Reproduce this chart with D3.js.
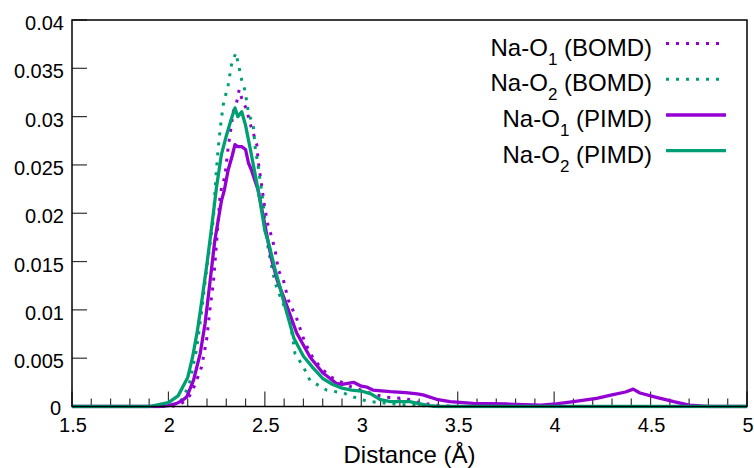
<!DOCTYPE html>
<html>
<head>
<meta charset="utf-8">
<script src="https://cdn.jsdelivr.net/npm/d3@7"></script>
<style>
  html, body { margin: 0; padding: 0; background: #fff; }
  svg { display: block; font-family: "Liberation Sans", Arial, Helvetica, sans-serif; }
</style>
</head>
<body>
<svg id="chart" width="754" height="468"></svg>
<script>
// ---- Data ----
const seriesNames = ["Na-O1 (BOMD)", "Na-O2 (BOMD)", "Na-O1 (PIMD)", "Na-O2 (PIMD)"];
const seriesColors = ["#9400d3", "#009e73", "#9400d3", "#009e73"];

const o1BomdX = [1.5, 2.0, 2.05, 2.095, 2.12, 2.146, 2.172, 2.198, 2.215, 2.233, 2.25, 2.267, 2.276, 2.293, 2.305, 2.311, 2.328, 2.336, 2.354, 2.367, 2.38, 2.406, 2.423, 2.44, 2.458, 2.466, 2.483, 2.5, 2.518, 2.535, 2.553, 2.57, 2.596, 2.622, 2.665, 2.699, 2.734, 2.786, 2.838, 2.941, 3.028, 3.114, 3.235, 3.3, 3.4, 3.5, 5.0];
const o1BomdY = [0, 0, 0.0001, 0.0007, 0.0014, 0.0027, 0.0041, 0.0069, 0.0100, 0.0128, 0.0170, 0.0217, 0.0227, 0.0238, 0.0260, 0.0270, 0.0293, 0.0305, 0.0315, 0.0328, 0.0319, 0.0307, 0.0293, 0.0283, 0.0271, 0.0253, 0.0229, 0.0205, 0.0186, 0.0176, 0.0162, 0.0141, 0.0131, 0.0110, 0.0091, 0.0071, 0.0055, 0.0041, 0.0031, 0.0021, 0.0015, 0.0010, 0.0008, 0.0004, 0.0001, 0, 0];

const o2BomdX = [1.5, 2.0, 2.05, 2.08, 2.11, 2.145, 2.17, 2.2, 2.233, 2.241, 2.249, 2.258, 2.27, 2.284, 2.31, 2.328, 2.35, 2.367, 2.38, 2.397, 2.414, 2.44, 2.449, 2.466, 2.489, 2.5, 2.518, 2.553, 2.587, 2.63, 2.656, 2.7, 2.734, 2.82, 2.907, 2.958, 3.0, 3.05, 3.1, 3.2, 3.3, 3.4, 5.0];
const o2BomdY = [0, 0, 0.0003, 0.0010, 0.0025, 0.0058, 0.0095, 0.0145, 0.0193, 0.0221, 0.0245, 0.0267, 0.0290, 0.0312, 0.0333, 0.0355, 0.0366, 0.0350, 0.0338, 0.0327, 0.0305, 0.0290, 0.0269, 0.0248, 0.0214, 0.0193, 0.0162, 0.0128, 0.0110, 0.0090, 0.0055, 0.0041, 0.0027, 0.0017, 0.0014, 0.0010, 0.0007, 0.0005, 0.0004, 0.0002, 0.0001, 0, 0];

const o1PimdX = [1.5, 1.95, 2.0, 2.04, 2.07, 2.095, 2.13, 2.165, 2.19, 2.215, 2.24, 2.26, 2.275, 2.29, 2.31, 2.33, 2.345, 2.36, 2.38, 2.4, 2.415, 2.43, 2.465, 2.5, 2.535, 2.565, 2.6, 2.665, 2.735, 2.8, 2.87, 2.9, 2.96, 3.0, 3.03, 3.06, 3.15, 3.23, 3.29, 3.32, 3.39, 3.46, 3.58, 3.75, 3.93, 4.01, 4.1, 4.22, 4.3, 4.37, 4.41, 4.445, 4.53, 4.62, 4.7, 4.8, 5.0];
const o1PimdY = [0, 0, 0.0001, 0.0003, 0.0006, 0.0010, 0.0027, 0.0055, 0.0086, 0.0128, 0.0171, 0.0195, 0.0213, 0.0224, 0.0245, 0.0259, 0.0271, 0.0269, 0.0269, 0.0266, 0.0252, 0.0245, 0.0224, 0.0188, 0.0152, 0.0130, 0.0112, 0.0076, 0.0051, 0.0035, 0.0024, 0.0023, 0.0025, 0.0021, 0.0020, 0.0017, 0.00153, 0.00143, 0.0013, 0.0012, 0.00075, 0.0005, 0.00033, 0.00026, 0.00015, 0.00026, 0.0005, 0.00085, 0.0012, 0.0015, 0.0018, 0.0014, 0.00095, 0.0005, 0.00015, 0, 0];

const o2PimdX = [1.5, 1.9, 2.0, 2.05, 2.1, 2.125, 2.15, 2.175, 2.2, 2.225, 2.25, 2.275, 2.3, 2.325, 2.345, 2.36, 2.38, 2.4, 2.425, 2.45, 2.475, 2.5, 2.525, 2.55, 2.575, 2.6, 2.65, 2.7, 2.75, 2.8, 2.85, 2.9, 2.95, 3.0, 3.05, 3.1, 3.15, 3.2, 3.25, 3.3, 3.35, 3.4, 5.0];
const o2PimdY = [0, 0, 0.0004, 0.0011, 0.0030, 0.0051, 0.0078, 0.0112, 0.0148, 0.0187, 0.0228, 0.0261, 0.0280, 0.0297, 0.0309, 0.0300, 0.0305, 0.0291, 0.0266, 0.0240, 0.0213, 0.0182, 0.0165, 0.0144, 0.0126, 0.0107, 0.0071, 0.0052, 0.0040, 0.0029, 0.0023, 0.0019, 0.0017, 0.0016, 0.0013, 0.0007, 0.0005, 0.0005, 0.0005, 0.0003, 0.0001, 0, 0];

const xTickLabels = ["1.5", "2", "2.5", "3", "3.5", "4", "4.5", "5"];
const yTickLabels = ["0", "0.005", "0.01", "0.015", "0.02", "0.025", "0.03", "0.035", "0.04"];
const xMinorTicks = [1.6, 1.7, 1.8, 1.9, 2.1, 2.2, 2.3, 2.4, 2.6, 2.7, 2.8, 2.9, 3.1, 3.2, 3.3, 3.4, 3.6, 3.7, 3.8, 3.9, 4.1, 4.2, 4.3, 4.4, 4.6, 4.7, 4.8, 4.9];

// ---- Layout ----
const svg = d3.select("#chart");
const L = 72, R = 747, T = 20, B = 406.5;
const x = d3.scaleLinear().domain([1.5, 5]).range([L, R]);
const y = d3.scaleLinear().domain([0, 0.04]).range([B, T]);

const series = [
  {xs: o1BomdX, ys: o1BomdY, dotted: true},
  {xs: o2BomdX, ys: o2BomdY, dotted: true},
  {xs: o1PimdX, ys: o1PimdY, dotted: false},
  {xs: o2PimdX, ys: o2PimdY, dotted: false}
];

svg.append("defs").append("clipPath").attr("id", "clip")
  .append("rect").attr("x", L).attr("y", T - 2).attr("width", R - L).attr("height", B - T + 4);

// Ticks (inward)
const tickG = svg.append("g").attr("stroke", "#333").attr("stroke-width", 1.2);
xTickLabels.map(Number).forEach(v => {
  tickG.append("line").attr("x1", x(v)).attr("x2", x(v)).attr("y1", B).attr("y2", B - 15);
});
xMinorTicks.forEach(v => {
  tickG.append("line").attr("x1", x(v)).attr("x2", x(v)).attr("y1", B).attr("y2", B - 8);
});
yTickLabels.map(Number).forEach(v => {
  tickG.append("line").attr("x1", L).attr("x2", L + 15).attr("y1", y(v)).attr("y2", y(v));
});

// Tick labels
const lab = svg.append("g").attr("font-size", 20).attr("fill", "#000");
xTickLabels.forEach(t => {
  lab.append("text").attr("x", x(+t) + 1).attr("y", B + 25).attr("text-anchor", "middle").text(t);
});
yTickLabels.forEach(t => {
  const isZero = t === "0";
  lab.append("text").attr("x", isZero ? 61 : 64).attr("y", y(+t) + (isZero ? 8 : 10))
    .attr("text-anchor", "end").text(t);
});

// Axis title
svg.append("text").attr("x", (L + R) / 2).attr("y", 463).attr("text-anchor", "middle")
  .attr("font-size", 24).text("Distance (Å)");

// Lines
const line = d3.line().x(d => x(d[0])).y(d => y(d[1]));
const plotG = svg.append("g").attr("clip-path", "url(#clip)");
series.forEach((s, i) => {
  const pts = s.xs.map((xv, k) => [xv, s.ys[k]]);
  const p = plotG.append("path").datum(pts).attr("d", line)
    .attr("fill", "none").attr("stroke", seriesColors[i])
    .attr("stroke-linejoin", "round");
  if (s.dotted) p.attr("stroke-width", 3).attr("stroke-dasharray", "3,7");
  else p.attr("stroke-width", 3.3);
});

// Frame
svg.append("rect").attr("x", L).attr("y", T).attr("width", R - L).attr("height", B - T)
  .attr("fill", "none").attr("stroke", "#000").attr("stroke-width", 1.5);

// Legend
const legBase = [55.5, 91.2, 127, 162.7];
seriesNames.forEach((name, i) => {
  const m = name.match(/^(Na-O)(\d)(.*)$/);
  const t = svg.append("text").attr("x", 652).attr("y", legBase[i]).attr("text-anchor", "end")
    .attr("font-size", 24);
  t.append("tspan").text(m[1]);
  t.append("tspan").attr("font-size", 17).attr("dy", 9).text(m[2]);
  t.append("tspan").attr("dy", -9).text(m[3]);
  const ly = legBase[i] - 12;
  const ln = svg.append("line").attr("x1", 666).attr("x2", 726).attr("y1", ly).attr("y2", ly)
    .attr("stroke", seriesColors[i]);
  if (series[i].dotted) ln.attr("stroke-width", 3).attr("stroke-dasharray", "3,7");
  else ln.attr("stroke-width", 3.3);
});
</script>
</body>
</html>
